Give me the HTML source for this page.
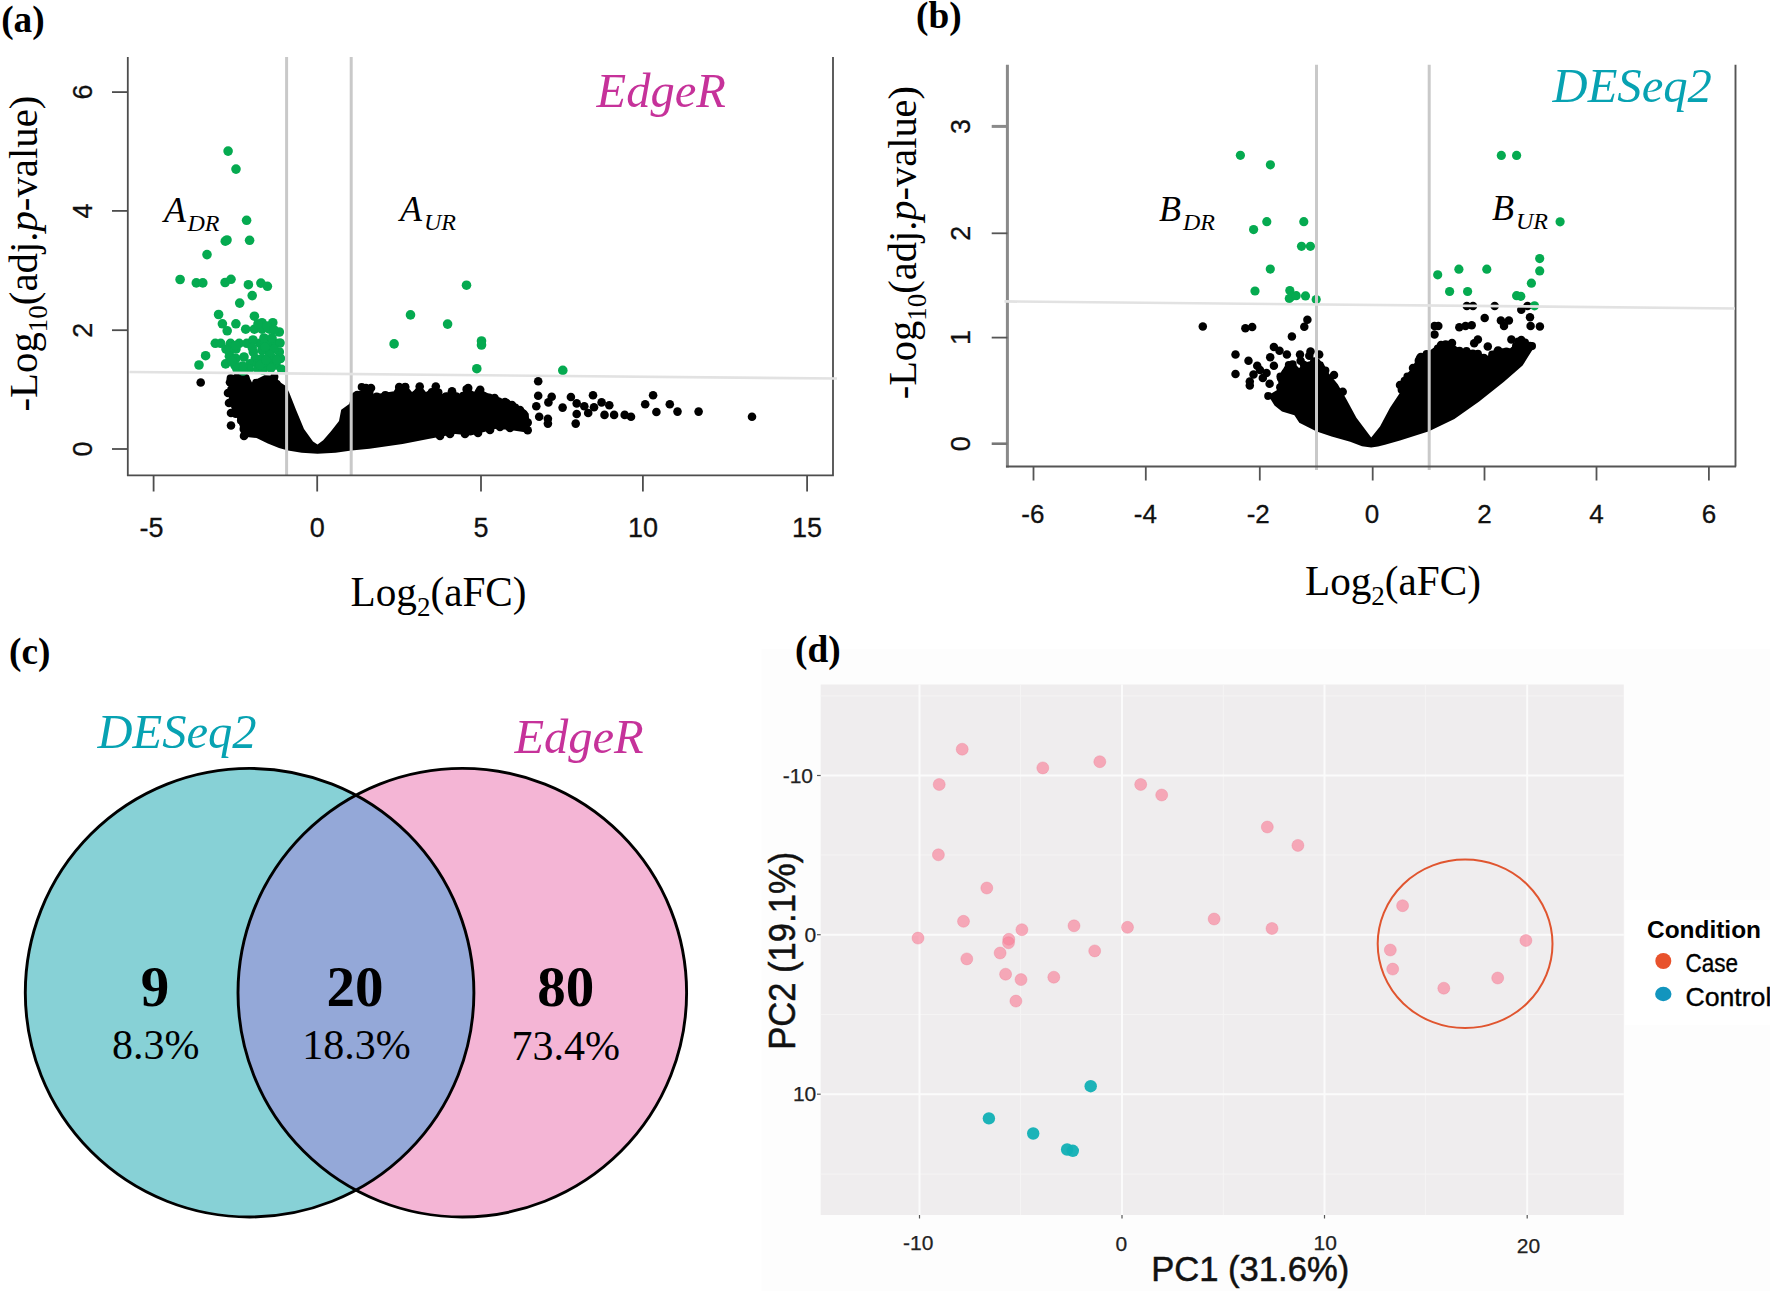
<!DOCTYPE html>
<html><head><meta charset="utf-8"><title>Figure</title>
<style>
html,body{margin:0;padding:0;background:#fff;}
svg{display:block;}
.ser{font-family:"Liberation Serif",serif;}
.san{font-family:"Liberation Sans",sans-serif;}
.dj{font-family:"DejaVu Sans","Liberation Sans",sans-serif;}
</style></head><body>
<svg width="1770" height="1291" viewBox="0 0 1770 1291">
<rect width="1770" height="1291" fill="#ffffff"/>

<rect x="761.6" y="648.8" width="1008.4" height="642.2" fill="#fdfdfd"/>
<rect x="1625" y="900" width="145" height="125" fill="#ffffff"/>
<g class="ser" font-weight="bold" font-size="37.3" fill="#000">
<text x="1.2" y="31.5">(a)</text>
<text x="916.1" y="27.8">(b)</text>
<text x="9" y="663.6">(c)</text>
<text x="795.1" y="661.5">(d)</text>
</g>
<g id="pa">
<path fill="#000" d="M230.5 374.7 L248.6 375.8 L252.0 382.6 L256.5 379.2 L264.4 375.3 L275.7 375.8 L279.0 381.5 L285.9 386.0 L289.3 392.8 L296.0 409.7 L304.0 428.9 L313.0 441.4 L317.5 444.5 L323.2 440.2 L331.0 431.2 L339.0 421.0 L341.2 409.7 L349.2 404.1 L352.5 392.8 L361.6 390.5 L362.7 384.9 L372.9 384.9 L373.6 394.6 L394.0 391.2 L399.0 386.0 L407.0 386.0 L412.0 392.0 L419.7 386.0 L426.0 392.0 L435.8 386.0 L442.0 394.0 L452.0 391.2 L460.0 394.0 L468.2 387.8 L474.0 392.0 L480.2 389.5 L494.6 396.4 L511.7 401.5 L528.7 413.4 L530.0 433.0 L513.4 430.4 L496.4 428.7 L470.8 435.6 L455.4 433.9 L428.2 439.0 L402.6 444.1 L369.5 448.7 L351.4 450.4 L335.6 452.7 L317.5 453.8 L301.7 452.7 L288.0 450.4 L279.0 448.1 L267.8 443.6 L256.5 438.0 L244.0 436.8 L241.0 430.0 L237.0 418.0 L232.0 410.0 L229.0 395.0 L230.5 385.0 Z"/>
<circle cx="230.6" cy="378.3" r="4.0" fill="#000"/>
<circle cx="236.8" cy="377.6" r="4.0" fill="#000"/>
<circle cx="242.7" cy="377.0" r="4.0" fill="#000"/>
<circle cx="245.6" cy="377.9" r="4.0" fill="#000"/>
<circle cx="256.2" cy="382.8" r="4.0" fill="#000"/>
<circle cx="259.5" cy="382.7" r="4.0" fill="#000"/>
<circle cx="268.5" cy="380.0" r="4.0" fill="#000"/>
<circle cx="274.4" cy="376.8" r="4.0" fill="#000"/>
<circle cx="276.8" cy="383.9" r="4.0" fill="#000"/>
<circle cx="357.4" cy="394.7" r="4.0" fill="#000"/>
<circle cx="364.6" cy="388.7" r="4.0" fill="#000"/>
<circle cx="361.7" cy="387.0" r="4.0" fill="#000"/>
<circle cx="370.0" cy="389.1" r="4.0" fill="#000"/>
<circle cx="376.7" cy="396.5" r="4.0" fill="#000"/>
<circle cx="385.3" cy="395.0" r="4.0" fill="#000"/>
<circle cx="390.5" cy="396.0" r="4.0" fill="#000"/>
<circle cx="398.0" cy="392.2" r="4.0" fill="#000"/>
<circle cx="399.4" cy="389.8" r="4.0" fill="#000"/>
<circle cx="405.2" cy="387.1" r="4.0" fill="#000"/>
<circle cx="418.3" cy="391.8" r="4.0" fill="#000"/>
<circle cx="420.9" cy="392.5" r="4.0" fill="#000"/>
<circle cx="431.9" cy="391.9" r="4.0" fill="#000"/>
<circle cx="438.5" cy="392.5" r="4.0" fill="#000"/>
<circle cx="446.1" cy="396.2" r="4.0" fill="#000"/>
<circle cx="456.2" cy="396.3" r="4.0" fill="#000"/>
<circle cx="463.1" cy="395.7" r="4.0" fill="#000"/>
<circle cx="466.4" cy="389.2" r="4.0" fill="#000"/>
<circle cx="474.2" cy="395.4" r="4.0" fill="#000"/>
<circle cx="478.7" cy="392.2" r="4.0" fill="#000"/>
<circle cx="489.2" cy="397.6" r="4.0" fill="#000"/>
<circle cx="498.3" cy="401.3" r="4.0" fill="#000"/>
<circle cx="506.8" cy="403.1" r="4.0" fill="#000"/>
<circle cx="512.6" cy="406.4" r="4.0" fill="#000"/>
<circle cx="515.2" cy="407.5" r="4.0" fill="#000"/>
<circle cx="522.2" cy="412.8" r="4.0" fill="#000"/>
<circle cx="244.6" cy="434.1" r="4.0" fill="#000"/>
<circle cx="243.5" cy="429.0" r="4.0" fill="#000"/>
<circle cx="240.9" cy="420.5" r="4.0" fill="#000"/>
<circle cx="235.8" cy="413.9" r="4.0" fill="#000"/>
<circle cx="235.3" cy="406.3" r="4.0" fill="#000"/>
<circle cx="232.7" cy="398.6" r="4.0" fill="#000"/>
<circle cx="231.2" cy="389.6" r="4.0" fill="#000"/>
<circle cx="232.4" cy="383.0" r="4.0" fill="#000"/>
<circle cx="200.7" cy="382.5" r="4.3" fill="#000"/>
<circle cx="230.0" cy="382.3" r="4.3" fill="#000"/>
<circle cx="231.0" cy="425.5" r="4.3" fill="#000"/>
<circle cx="228.0" cy="393.0" r="4.3" fill="#000"/>
<circle cx="229.0" cy="403.0" r="4.3" fill="#000"/>
<circle cx="231.0" cy="413.0" r="4.3" fill="#000"/>
<circle cx="244.0" cy="436.0" r="4.3" fill="#000"/>
<circle cx="538.2" cy="381.3" r="4.3" fill="#000"/>
<circle cx="538.2" cy="395.7" r="4.3" fill="#000"/>
<circle cx="536.3" cy="406.3" r="4.3" fill="#000"/>
<circle cx="551.7" cy="396.7" r="4.3" fill="#000"/>
<circle cx="548.4" cy="402.4" r="4.3" fill="#000"/>
<circle cx="539.2" cy="416.8" r="4.3" fill="#000"/>
<circle cx="547.9" cy="418.8" r="4.3" fill="#000"/>
<circle cx="547.9" cy="423.6" r="4.3" fill="#000"/>
<circle cx="523.8" cy="414.0" r="4.3" fill="#000"/>
<circle cx="527.7" cy="422.6" r="4.3" fill="#000"/>
<circle cx="527.7" cy="430.3" r="4.3" fill="#000"/>
<circle cx="521.0" cy="416.8" r="4.3" fill="#000"/>
<circle cx="562.6" cy="407.6" r="4.3" fill="#000"/>
<circle cx="570.9" cy="397.0" r="4.3" fill="#000"/>
<circle cx="576.7" cy="403.4" r="4.3" fill="#000"/>
<circle cx="576.7" cy="414.0" r="4.3" fill="#000"/>
<circle cx="575.7" cy="423.6" r="4.3" fill="#000"/>
<circle cx="584.3" cy="406.3" r="4.3" fill="#000"/>
<circle cx="588.2" cy="413.0" r="4.3" fill="#000"/>
<circle cx="593.0" cy="395.3" r="4.3" fill="#000"/>
<circle cx="594.0" cy="407.2" r="4.3" fill="#000"/>
<circle cx="601.6" cy="402.4" r="4.3" fill="#000"/>
<circle cx="609.3" cy="405.3" r="4.3" fill="#000"/>
<circle cx="604.5" cy="414.9" r="4.3" fill="#000"/>
<circle cx="614.1" cy="414.9" r="4.3" fill="#000"/>
<circle cx="624.7" cy="414.9" r="4.3" fill="#000"/>
<circle cx="631.0" cy="416.8" r="4.3" fill="#000"/>
<circle cx="645.2" cy="404.3" r="4.3" fill="#000"/>
<circle cx="653.1" cy="395.3" r="4.3" fill="#000"/>
<circle cx="656.4" cy="412.0" r="4.3" fill="#000"/>
<circle cx="669.8" cy="404.3" r="4.3" fill="#000"/>
<circle cx="677.5" cy="411.6" r="4.3" fill="#000"/>
<circle cx="698.6" cy="411.6" r="4.3" fill="#000"/>
<circle cx="752.0" cy="416.8" r="4.3" fill="#000"/>
<circle cx="366.0" cy="388.0" r="4.3" fill="#000"/>
<circle cx="371.0" cy="388.0" r="4.3" fill="#000"/>
<circle cx="399.2" cy="387.0" r="4.3" fill="#000"/>
<circle cx="405.2" cy="387.0" r="4.3" fill="#000"/>
<circle cx="419.7" cy="386.5" r="4.3" fill="#000"/>
<circle cx="435.8" cy="386.5" r="4.3" fill="#000"/>
<circle cx="437.0" cy="393.0" r="4.3" fill="#000"/>
<circle cx="452.0" cy="391.2" r="4.3" fill="#000"/>
<circle cx="468.2" cy="388.0" r="4.3" fill="#000"/>
<circle cx="480.2" cy="389.8" r="4.3" fill="#000"/>
<circle cx="483.0" cy="396.0" r="4.3" fill="#000"/>
<circle cx="494.6" cy="398.0" r="4.3" fill="#000"/>
<circle cx="505.0" cy="402.0" r="4.3" fill="#000"/>
<circle cx="512.0" cy="405.0" r="4.3" fill="#000"/>
<circle cx="520.0" cy="410.0" r="4.3" fill="#000"/>
<circle cx="510.0" cy="428.0" r="4.3" fill="#000"/>
<circle cx="500.0" cy="427.0" r="4.3" fill="#000"/>
<circle cx="490.0" cy="430.0" r="4.3" fill="#000"/>
<circle cx="478.0" cy="433.0" r="4.3" fill="#000"/>
<circle cx="465.0" cy="434.0" r="4.3" fill="#000"/>
<circle cx="450.0" cy="434.0" r="4.3" fill="#000"/>
<circle cx="440.0" cy="436.0" r="4.3" fill="#000"/>
<circle cx="228.1" cy="151.1" r="4.8" fill="#05aa50"/>
<circle cx="236.0" cy="169.1" r="4.8" fill="#05aa50"/>
<circle cx="246.6" cy="220.3" r="4.8" fill="#05aa50"/>
<circle cx="225.3" cy="241.2" r="4.8" fill="#05aa50"/>
<circle cx="227.0" cy="240.0" r="4.8" fill="#05aa50"/>
<circle cx="249.6" cy="240.3" r="4.8" fill="#05aa50"/>
<circle cx="207.0" cy="254.6" r="4.8" fill="#05aa50"/>
<circle cx="180.1" cy="279.5" r="4.8" fill="#05aa50"/>
<circle cx="196.3" cy="282.9" r="4.8" fill="#05aa50"/>
<circle cx="202.8" cy="282.9" r="4.8" fill="#05aa50"/>
<circle cx="225.1" cy="282.5" r="4.8" fill="#05aa50"/>
<circle cx="231.0" cy="279.3" r="4.8" fill="#05aa50"/>
<circle cx="248.4" cy="284.7" r="4.8" fill="#05aa50"/>
<circle cx="260.9" cy="283.1" r="4.8" fill="#05aa50"/>
<circle cx="267.4" cy="286.3" r="4.8" fill="#05aa50"/>
<circle cx="252.2" cy="295.6" r="4.8" fill="#05aa50"/>
<circle cx="239.7" cy="303.1" r="4.8" fill="#05aa50"/>
<circle cx="218.6" cy="314.5" r="4.8" fill="#05aa50"/>
<circle cx="222.4" cy="323.8" r="4.8" fill="#05aa50"/>
<circle cx="227.2" cy="330.8" r="4.8" fill="#05aa50"/>
<circle cx="235.9" cy="323.8" r="4.8" fill="#05aa50"/>
<circle cx="254.4" cy="316.2" r="4.8" fill="#05aa50"/>
<circle cx="245.7" cy="329.2" r="4.8" fill="#05aa50"/>
<circle cx="254.4" cy="329.2" r="4.8" fill="#05aa50"/>
<circle cx="262.0" cy="329.2" r="4.8" fill="#05aa50"/>
<circle cx="269.5" cy="329.2" r="4.8" fill="#05aa50"/>
<circle cx="279.3" cy="332.0" r="4.8" fill="#05aa50"/>
<circle cx="262.0" cy="322.7" r="4.8" fill="#05aa50"/>
<circle cx="272.8" cy="322.7" r="4.8" fill="#05aa50"/>
<circle cx="258.0" cy="324.0" r="4.8" fill="#05aa50"/>
<circle cx="267.0" cy="326.0" r="4.8" fill="#05aa50"/>
<circle cx="274.0" cy="330.0" r="4.8" fill="#05aa50"/>
<circle cx="215.3" cy="343.3" r="4.8" fill="#05aa50"/>
<circle cx="220.7" cy="343.3" r="4.8" fill="#05aa50"/>
<circle cx="230.5" cy="343.3" r="4.8" fill="#05aa50"/>
<circle cx="239.2" cy="343.3" r="4.8" fill="#05aa50"/>
<circle cx="246.8" cy="343.3" r="4.8" fill="#05aa50"/>
<circle cx="259.8" cy="343.3" r="4.8" fill="#05aa50"/>
<circle cx="268.5" cy="343.3" r="4.8" fill="#05aa50"/>
<circle cx="276.0" cy="343.3" r="4.8" fill="#05aa50"/>
<circle cx="253.0" cy="340.0" r="4.8" fill="#05aa50"/>
<circle cx="264.0" cy="338.0" r="4.8" fill="#05aa50"/>
<circle cx="272.0" cy="338.0" r="4.8" fill="#05aa50"/>
<circle cx="280.0" cy="343.0" r="4.8" fill="#05aa50"/>
<circle cx="229.4" cy="352.0" r="4.8" fill="#05aa50"/>
<circle cx="253.3" cy="352.0" r="4.8" fill="#05aa50"/>
<circle cx="268.5" cy="352.0" r="4.8" fill="#05aa50"/>
<circle cx="279.3" cy="352.0" r="4.8" fill="#05aa50"/>
<circle cx="236.0" cy="349.0" r="4.8" fill="#05aa50"/>
<circle cx="262.0" cy="350.0" r="4.8" fill="#05aa50"/>
<circle cx="274.0" cy="349.0" r="4.8" fill="#05aa50"/>
<circle cx="234.8" cy="358.5" r="4.8" fill="#05aa50"/>
<circle cx="255.4" cy="358.5" r="4.8" fill="#05aa50"/>
<circle cx="262.0" cy="358.5" r="4.8" fill="#05aa50"/>
<circle cx="272.8" cy="358.5" r="4.8" fill="#05aa50"/>
<circle cx="280.4" cy="358.5" r="4.8" fill="#05aa50"/>
<circle cx="244.0" cy="357.0" r="4.8" fill="#05aa50"/>
<circle cx="225.6" cy="363.9" r="4.8" fill="#05aa50"/>
<circle cx="250.0" cy="363.9" r="4.8" fill="#05aa50"/>
<circle cx="257.6" cy="363.9" r="4.8" fill="#05aa50"/>
<circle cx="268.5" cy="363.9" r="4.8" fill="#05aa50"/>
<circle cx="276.0" cy="365.0" r="4.8" fill="#05aa50"/>
<circle cx="237.0" cy="369.3" r="4.8" fill="#05aa50"/>
<circle cx="249.0" cy="369.3" r="4.8" fill="#05aa50"/>
<circle cx="257.6" cy="369.3" r="4.8" fill="#05aa50"/>
<circle cx="281.5" cy="369.3" r="4.8" fill="#05aa50"/>
<circle cx="243.0" cy="371.0" r="4.8" fill="#05aa50"/>
<circle cx="263.0" cy="370.0" r="4.8" fill="#05aa50"/>
<circle cx="205.6" cy="355.7" r="4.8" fill="#05aa50"/>
<circle cx="199.0" cy="365.0" r="4.8" fill="#05aa50"/>
<circle cx="230.5" cy="347.6" r="4.8" fill="#05aa50"/>
<circle cx="236.0" cy="345.5" r="4.8" fill="#05aa50"/>
<circle cx="229.4" cy="356.3" r="4.8" fill="#05aa50"/>
<circle cx="235.9" cy="358.5" r="4.8" fill="#05aa50"/>
<circle cx="252.2" cy="347.6" r="4.8" fill="#05aa50"/>
<circle cx="242.4" cy="366.0" r="4.8" fill="#05aa50"/>
<circle cx="234.8" cy="365.0" r="4.8" fill="#05aa50"/>
<circle cx="226.0" cy="349.0" r="4.8" fill="#05aa50"/>
<circle cx="232.0" cy="361.0" r="4.8" fill="#05aa50"/>
<circle cx="265.0" cy="347.0" r="4.8" fill="#05aa50"/>
<circle cx="270.0" cy="355.0" r="4.8" fill="#05aa50"/>
<circle cx="277.0" cy="360.0" r="4.8" fill="#05aa50"/>
<circle cx="260.0" cy="365.0" r="4.8" fill="#05aa50"/>
<circle cx="266.0" cy="360.0" r="4.8" fill="#05aa50"/>
<circle cx="271.0" cy="368.0" r="4.8" fill="#05aa50"/>
<circle cx="466.5" cy="285.2" r="4.8" fill="#05aa50"/>
<circle cx="410.5" cy="314.9" r="4.8" fill="#05aa50"/>
<circle cx="447.6" cy="324.1" r="4.8" fill="#05aa50"/>
<circle cx="394.1" cy="343.9" r="4.8" fill="#05aa50"/>
<circle cx="481.5" cy="341.0" r="4.8" fill="#05aa50"/>
<circle cx="481.5" cy="345.0" r="4.8" fill="#05aa50"/>
<circle cx="476.8" cy="368.7" r="4.8" fill="#05aa50"/>
<circle cx="562.8" cy="370.4" r="4.8" fill="#05aa50"/>
<line x1="286.6" y1="57" x2="286.6" y2="475.4" stroke="#c9c9c9" stroke-width="3"/>
<line x1="351.2" y1="57" x2="351.2" y2="475.4" stroke="#c9c9c9" stroke-width="3"/>
<path d="M127.8 57 L127.8 475.4 L833 475.4 L833 57" fill="none" stroke="#4d4d4d" stroke-width="1.8"/>
<line x1="129.5" y1="372" x2="837" y2="378.5" stroke="#e2e2e2" stroke-width="2.7"/>
<line x1="153.6" y1="475.4" x2="153.6" y2="491.5" stroke="#4d4d4d" stroke-width="1.8"/>
<line x1="317.2" y1="475.4" x2="317.2" y2="491.5" stroke="#4d4d4d" stroke-width="1.8"/>
<line x1="481" y1="475.4" x2="481" y2="491.5" stroke="#4d4d4d" stroke-width="1.8"/>
<line x1="642.9" y1="475.4" x2="642.9" y2="491.5" stroke="#4d4d4d" stroke-width="1.8"/>
<line x1="807.1" y1="475.4" x2="807.1" y2="491.5" stroke="#4d4d4d" stroke-width="1.8"/>
<line x1="112" y1="92.1" x2="127.8" y2="92.1" stroke="#4d4d4d" stroke-width="1.8"/>
<line x1="112" y1="210.9" x2="127.8" y2="210.9" stroke="#4d4d4d" stroke-width="1.8"/>
<line x1="112" y1="330.2" x2="127.8" y2="330.2" stroke="#4d4d4d" stroke-width="1.8"/>
<line x1="112" y1="449" x2="127.8" y2="449" stroke="#4d4d4d" stroke-width="1.8"/>
<g class="san" font-size="27" fill="#111" stroke="#111" stroke-width="0.3" text-anchor="middle">
<text x="151.5" y="537">-5</text>
<text x="317.2" y="537">0</text>
<text x="481" y="537">5</text>
<text x="643" y="537">10</text>
<text x="807.1" y="537">15</text>
<text transform="translate(91.5 92.1) rotate(-90)">6</text>
<text transform="translate(91.5 210.9) rotate(-90)">4</text>
<text transform="translate(91.5 330.2) rotate(-90)">2</text>
<text transform="translate(91.5 449) rotate(-90)">0</text>
</g>
<text class="ser" font-size="41.2" x="350.6" y="605.8" fill="#000">Log<tspan font-size="27" dy="10">2</tspan><tspan dy="-10">(aFC)</tspan></text>
<text class="ser" font-size="40.8" transform="translate(37 411.5) rotate(-90)" fill="#000">-Log<tspan font-size="27" dy="10">10</tspan><tspan dy="-10">(adj.</tspan><tspan font-style="italic">p</tspan>-value)</text>
<text class="ser" font-style="italic" font-size="48.5" x="596.5" y="107" fill="#c6329a">EdgeR</text>
<text class="ser" font-style="italic" font-size="36" x="164" y="221.5" fill="#000">A<tspan font-size="24" dy="9.3" dx="1.5">DR</tspan></text>
<text class="ser" font-style="italic" font-size="36" x="400" y="221.2" fill="#000">A<tspan font-size="24" dy="9" dx="2">UR</tspan></text>
</g>
<g id="pb">
<path fill="#000" d="M1268.3 395.4 L1278.3 389.3 L1278.3 376.9 L1285.7 364.5 L1294.4 363.2 L1299.0 368.0 L1306.8 362.0 L1316.7 359.5 L1322.9 362.0 L1327.8 371.9 L1337.8 384.3 L1346.4 399.2 L1356.4 417.8 L1371.2 437.6 L1380.0 426.4 L1390.0 407.8 L1399.8 392.9 L1399.8 381.7 L1411.0 369.3 L1417.2 358.2 L1425.9 353.2 L1438.3 344.5 L1450.7 342.1 L1461.8 350.7 L1469.3 349.5 L1487.8 355.7 L1497.8 348.3 L1510.2 348.3 L1521.3 338.3 L1533.7 344.5 L1535.0 345.8 L1522.6 365.6 L1504.0 381.7 L1479.2 401.6 L1454.4 418.9 L1429.0 431.3 L1400.0 440.5 L1385.0 444.8 L1378.0 446.6 L1371.2 447.5 L1362.0 446.3 L1350.2 441.8 L1331.6 436.4 L1316.7 431.4 L1299.3 422.7 L1294.4 415.3 L1282.0 411.6 L1274.5 405.4 Z"/>
<circle cx="1268.2" cy="395.9" r="4.0" fill="#000"/>
<circle cx="1280.1" cy="387.3" r="4.0" fill="#000"/>
<circle cx="1280.9" cy="378.2" r="4.0" fill="#000"/>
<circle cx="1280.4" cy="376.5" r="4.0" fill="#000"/>
<circle cx="1285.3" cy="372.9" r="4.0" fill="#000"/>
<circle cx="1288.8" cy="364.9" r="4.0" fill="#000"/>
<circle cx="1292.6" cy="364.3" r="4.0" fill="#000"/>
<circle cx="1303.8" cy="364.7" r="4.0" fill="#000"/>
<circle cx="1314.0" cy="361.3" r="4.0" fill="#000"/>
<circle cx="1316.7" cy="362.6" r="4.0" fill="#000"/>
<circle cx="1325.4" cy="370.4" r="4.0" fill="#000"/>
<circle cx="1401.6" cy="389.8" r="4.0" fill="#000"/>
<circle cx="1404.6" cy="380.7" r="4.0" fill="#000"/>
<circle cx="1407.4" cy="376.5" r="4.0" fill="#000"/>
<circle cx="1416.2" cy="367.5" r="4.0" fill="#000"/>
<circle cx="1418.6" cy="360.8" r="4.0" fill="#000"/>
<circle cx="1421.0" cy="356.8" r="4.0" fill="#000"/>
<circle cx="1426.6" cy="354.1" r="4.0" fill="#000"/>
<circle cx="1437.8" cy="348.4" r="4.0" fill="#000"/>
<circle cx="1444.3" cy="347.3" r="4.0" fill="#000"/>
<circle cx="1445.6" cy="344.3" r="4.0" fill="#000"/>
<circle cx="1449.2" cy="344.8" r="4.0" fill="#000"/>
<circle cx="1459.5" cy="350.8" r="4.0" fill="#000"/>
<circle cx="1466.5" cy="351.0" r="4.0" fill="#000"/>
<circle cx="1472.8" cy="353.4" r="4.0" fill="#000"/>
<circle cx="1477.9" cy="353.7" r="4.0" fill="#000"/>
<circle cx="1483.8" cy="357.8" r="4.0" fill="#000"/>
<circle cx="1492.2" cy="354.6" r="4.0" fill="#000"/>
<circle cx="1498.1" cy="350.3" r="4.0" fill="#000"/>
<circle cx="1497.2" cy="351.8" r="4.0" fill="#000"/>
<circle cx="1506.4" cy="351.5" r="4.0" fill="#000"/>
<circle cx="1516.0" cy="346.0" r="4.0" fill="#000"/>
<circle cx="1518.2" cy="341.5" r="4.0" fill="#000"/>
<circle cx="1525.0" cy="342.5" r="4.0" fill="#000"/>
<circle cx="1530.4" cy="346.6" r="4.0" fill="#000"/>
<circle cx="1532.0" cy="346.0" r="4.0" fill="#000"/>
<circle cx="1202.8" cy="326.4" r="4.25" fill="#000"/>
<circle cx="1245.4" cy="328.3" r="4.25" fill="#000"/>
<circle cx="1252.2" cy="327.0" r="4.25" fill="#000"/>
<circle cx="1307.4" cy="319.8" r="4.25" fill="#000"/>
<circle cx="1304.3" cy="326.7" r="4.25" fill="#000"/>
<circle cx="1291.9" cy="336.6" r="4.25" fill="#000"/>
<circle cx="1273.9" cy="346.9" r="4.25" fill="#000"/>
<circle cx="1279.5" cy="350.8" r="4.25" fill="#000"/>
<circle cx="1286.9" cy="354.5" r="4.25" fill="#000"/>
<circle cx="1235.5" cy="354.5" r="4.25" fill="#000"/>
<circle cx="1270.2" cy="357.3" r="4.25" fill="#000"/>
<circle cx="1248.5" cy="360.7" r="4.25" fill="#000"/>
<circle cx="1257.2" cy="365.7" r="4.25" fill="#000"/>
<circle cx="1273.9" cy="365.7" r="4.25" fill="#000"/>
<circle cx="1235.5" cy="374.0" r="4.25" fill="#000"/>
<circle cx="1253.5" cy="374.4" r="4.25" fill="#000"/>
<circle cx="1266.5" cy="373.1" r="4.25" fill="#000"/>
<circle cx="1249.8" cy="385.5" r="4.25" fill="#000"/>
<circle cx="1249.8" cy="381.5" r="4.25" fill="#000"/>
<circle cx="1262.8" cy="378.1" r="4.25" fill="#000"/>
<circle cx="1269.6" cy="383.7" r="4.25" fill="#000"/>
<circle cx="1300.0" cy="354.5" r="4.25" fill="#000"/>
<circle cx="1310.5" cy="351.4" r="4.25" fill="#000"/>
<circle cx="1309.3" cy="355.8" r="4.25" fill="#000"/>
<circle cx="1300.6" cy="360.7" r="4.25" fill="#000"/>
<circle cx="1319.2" cy="354.5" r="4.25" fill="#000"/>
<circle cx="1334.0" cy="375.0" r="4.25" fill="#000"/>
<circle cx="1342.7" cy="391.7" r="4.25" fill="#000"/>
<circle cx="1260.0" cy="370.0" r="4.25" fill="#000"/>
<circle cx="1434.5" cy="325.9" r="4.25" fill="#000"/>
<circle cx="1438.3" cy="325.9" r="4.25" fill="#000"/>
<circle cx="1434.5" cy="334.6" r="4.25" fill="#000"/>
<circle cx="1459.3" cy="327.2" r="4.25" fill="#000"/>
<circle cx="1465.5" cy="325.9" r="4.25" fill="#000"/>
<circle cx="1471.7" cy="325.3" r="4.25" fill="#000"/>
<circle cx="1484.7" cy="317.9" r="4.25" fill="#000"/>
<circle cx="1500.9" cy="320.4" r="4.25" fill="#000"/>
<circle cx="1508.9" cy="320.4" r="4.25" fill="#000"/>
<circle cx="1504.0" cy="325.9" r="4.25" fill="#000"/>
<circle cx="1530.0" cy="317.3" r="4.25" fill="#000"/>
<circle cx="1530.6" cy="325.9" r="4.25" fill="#000"/>
<circle cx="1539.9" cy="326.6" r="4.25" fill="#000"/>
<circle cx="1477.9" cy="339.6" r="4.25" fill="#000"/>
<circle cx="1474.2" cy="343.3" r="4.25" fill="#000"/>
<circle cx="1487.8" cy="346.4" r="4.25" fill="#000"/>
<circle cx="1511.4" cy="339.6" r="4.25" fill="#000"/>
<circle cx="1466.8" cy="306.1" r="4.25" fill="#000"/>
<circle cx="1473.0" cy="306.1" r="4.25" fill="#000"/>
<circle cx="1494.7" cy="306.1" r="4.25" fill="#000"/>
<circle cx="1521.3" cy="309.8" r="4.25" fill="#000"/>
<circle cx="1527.5" cy="306.1" r="4.25" fill="#000"/>
<circle cx="1521.3" cy="340.0" r="4.25" fill="#000"/>
<circle cx="1530.0" cy="346.0" r="4.25" fill="#000"/>
<circle cx="1400.0" cy="385.0" r="4.25" fill="#000"/>
<circle cx="1413.0" cy="368.0" r="4.25" fill="#000"/>
<circle cx="1420.0" cy="358.0" r="4.25" fill="#000"/>
<circle cx="1441.0" cy="345.0" r="4.25" fill="#000"/>
<circle cx="1452.0" cy="343.0" r="4.25" fill="#000"/>
<circle cx="1240.4" cy="155.3" r="4.6" fill="#05aa50"/>
<circle cx="1270.4" cy="164.8" r="4.6" fill="#05aa50"/>
<circle cx="1266.8" cy="221.7" r="4.6" fill="#05aa50"/>
<circle cx="1253.6" cy="229.6" r="4.6" fill="#05aa50"/>
<circle cx="1303.8" cy="221.7" r="4.6" fill="#05aa50"/>
<circle cx="1301.5" cy="246.3" r="4.6" fill="#05aa50"/>
<circle cx="1310.4" cy="246.3" r="4.6" fill="#05aa50"/>
<circle cx="1270.3" cy="269.1" r="4.6" fill="#05aa50"/>
<circle cx="1255.0" cy="291.0" r="4.6" fill="#05aa50"/>
<circle cx="1289.8" cy="290.5" r="4.6" fill="#05aa50"/>
<circle cx="1292.0" cy="296.3" r="4.6" fill="#05aa50"/>
<circle cx="1289.3" cy="298.5" r="4.6" fill="#05aa50"/>
<circle cx="1296.2" cy="295.7" r="4.6" fill="#05aa50"/>
<circle cx="1305.5" cy="295.9" r="4.6" fill="#05aa50"/>
<circle cx="1316.2" cy="299.6" r="4.6" fill="#05aa50"/>
<circle cx="1501.3" cy="155.4" r="4.6" fill="#05aa50"/>
<circle cx="1516.6" cy="155.4" r="4.6" fill="#05aa50"/>
<circle cx="1560.1" cy="221.8" r="4.6" fill="#05aa50"/>
<circle cx="1539.7" cy="258.6" r="4.6" fill="#05aa50"/>
<circle cx="1539.7" cy="270.9" r="4.6" fill="#05aa50"/>
<circle cx="1531.4" cy="283.2" r="4.6" fill="#05aa50"/>
<circle cx="1516.6" cy="295.7" r="4.6" fill="#05aa50"/>
<circle cx="1520.8" cy="296.3" r="4.6" fill="#05aa50"/>
<circle cx="1534.5" cy="305.8" r="4.6" fill="#05aa50"/>
<circle cx="1437.7" cy="274.8" r="4.6" fill="#05aa50"/>
<circle cx="1458.9" cy="269.2" r="4.6" fill="#05aa50"/>
<circle cx="1486.8" cy="269.2" r="4.6" fill="#05aa50"/>
<circle cx="1449.6" cy="291.5" r="4.6" fill="#05aa50"/>
<circle cx="1467.6" cy="291.5" r="4.6" fill="#05aa50"/>
<line x1="1316.5" y1="64.7" x2="1316.5" y2="470" stroke="#c9c9c9" stroke-width="3"/>
<line x1="1429.2" y1="64.7" x2="1429.2" y2="470" stroke="#c9c9c9" stroke-width="3"/>
<line x1="1007.4" y1="64.7" x2="1007.4" y2="467.4" stroke="#8a8a8a" stroke-width="3"/>
<line x1="1006.0" y1="466.4" x2="1736.1" y2="466.4" stroke="#555" stroke-width="2"/>
<line x1="1735.5" y1="64.7" x2="1735.5" y2="466.4" stroke="#555" stroke-width="1.9"/>
<line x1="1004.5" y1="301.4" x2="1735" y2="308.5" stroke="#e2e2e2" stroke-width="2.7"/>
<line x1="1033.5" y1="466.4" x2="1033.5" y2="480.5" stroke="#555" stroke-width="1.8"/>
<line x1="1145.8" y1="466.4" x2="1145.8" y2="480.5" stroke="#555" stroke-width="1.8"/>
<line x1="1259.8" y1="466.4" x2="1259.8" y2="480.5" stroke="#555" stroke-width="1.8"/>
<line x1="1372.7" y1="466.4" x2="1372.7" y2="480.5" stroke="#555" stroke-width="1.8"/>
<line x1="1484.5" y1="466.4" x2="1484.5" y2="480.5" stroke="#555" stroke-width="1.8"/>
<line x1="1596.5" y1="466.4" x2="1596.5" y2="480.5" stroke="#555" stroke-width="1.8"/>
<line x1="1708.9" y1="466.4" x2="1708.9" y2="480.5" stroke="#555" stroke-width="1.8"/>
<line x1="991.7" y1="126.4" x2="1007.4" y2="126.4" stroke="#8a8a8a" stroke-width="3"/>
<line x1="991.7" y1="233.3" x2="1007.4" y2="233.3" stroke="#555" stroke-width="1.8"/>
<line x1="991.7" y1="337.6" x2="1007.4" y2="337.6" stroke="#555" stroke-width="1.8"/>
<line x1="991.7" y1="443.7" x2="1007.4" y2="443.7" stroke="#777" stroke-width="2.6"/>
<g class="san" font-size="26" fill="#111" stroke="#111" stroke-width="0.3" text-anchor="middle">
<text x="1032.8" y="523">-6</text>
<text x="1145.4" y="523">-4</text>
<text x="1258.2" y="523">-2</text>
<text x="1372" y="523">0</text>
<text x="1484.5" y="523">2</text>
<text x="1596.5" y="523">4</text>
<text x="1708.9" y="523">6</text>
</g><g class="san" font-size="27" fill="#111" stroke="#111" stroke-width="0.3" text-anchor="middle">
<text transform="translate(970 126.4) rotate(-90)">3</text>
<text transform="translate(970 233.3) rotate(-90)">2</text>
<text transform="translate(970 337.6) rotate(-90)">1</text>
<text transform="translate(970 443.7) rotate(-90)">0</text>
</g>
<text class="ser" font-size="41.2" x="1305" y="595.4" fill="#000">Log<tspan font-size="27" dy="10">2</tspan><tspan dy="-10">(aFC)</tspan></text>
<text class="ser" font-size="40.45" transform="translate(916 399.3) rotate(-90)" fill="#000">-Log<tspan font-size="27" dy="10">10</tspan><tspan dy="-10">(adj.</tspan><tspan font-style="italic">p</tspan>-value)</text>
<text class="ser" font-style="italic" font-size="48.6" x="1552.6" y="102.3" fill="#07a2b2">DESeq2</text>
<text class="ser" font-style="italic" font-size="36" x="1159" y="221.2" fill="#000">B<tspan font-size="24" dy="9" dx="2">DR</tspan></text>
<text class="ser" font-style="italic" font-size="36" x="1492" y="220.4" fill="#000">B<tspan font-size="24" dy="9" dx="2">UR</tspan></text>
</g>
<g id="pc">
<defs><clipPath id="clipL"><circle cx="249.6" cy="992.7" r="224.3"/></clipPath></defs>
<circle cx="249.6" cy="992.7" r="224.3" fill="#87d1d6"/>
<circle cx="462.3" cy="992.7" r="224.3" fill="#f4b5d5"/>
<circle cx="462.3" cy="992.7" r="224.3" fill="#94a8d8" clip-path="url(#clipL)"/>
<circle cx="249.6" cy="992.7" r="224.3" fill="none" stroke="#000" stroke-width="2.9"/>
<circle cx="462.3" cy="992.7" r="224.3" fill="none" stroke="#000" stroke-width="2.9"/>
<text class="ser" font-style="italic" font-size="48.5" x="97.6" y="747.8" fill="#07a2b2">DESeq2</text>
<text class="ser" font-style="italic" font-size="48.5" x="514.4" y="752.9" fill="#c6329a">EdgeR</text>
<g class="ser" text-anchor="middle" fill="#000">
<text font-weight="bold" font-size="57" x="155" y="1005.6">9</text>
<text font-weight="bold" font-size="57" x="355" y="1005.6">20</text>
<text font-weight="bold" font-size="57" x="565.7" y="1005.6">80</text>
<text font-size="42" x="155.8" y="1059.3">8.3%</text>
<text font-size="42" x="356.5" y="1059.3">18.3%</text>
<text font-size="42" x="565.7" y="1059.6">73.4%</text>
</g></g>
<g id="pd">
<rect x="820.7" y="684.5" width="803.0999999999999" height="530.5" fill="#efedee"/>
<g stroke="#f5f4f4">
<line x1="1020.5" y1="684.5" x2="1020.5" y2="1215" stroke-width="1"/>
<line x1="1223.3" y1="684.5" x2="1223.3" y2="1215" stroke-width="1"/>
<line x1="1425.4" y1="684.5" x2="1425.4" y2="1215" stroke-width="1"/>
<line x1="820.7" y1="695.9" x2="1623.8" y2="695.9" stroke-width="1"/>
<line x1="820.7" y1="855" x2="1623.8" y2="855" stroke-width="1"/>
<line x1="820.7" y1="1014.5" x2="1623.8" y2="1014.5" stroke-width="1"/>
<line x1="820.7" y1="1174.1" x2="1623.8" y2="1174.1" stroke-width="1"/>
<line x1="919.5" y1="684.5" x2="919.5" y2="1215" stroke-width="2" stroke="#fbfbfb"/>
<line x1="1122" y1="684.5" x2="1122" y2="1215" stroke-width="2" stroke="#fbfbfb"/>
<line x1="1324.5" y1="684.5" x2="1324.5" y2="1215" stroke-width="2" stroke="#fbfbfb"/>
<line x1="1527.2" y1="684.5" x2="1527.2" y2="1215" stroke-width="2" stroke="#fbfbfb"/>
<line x1="820.7" y1="775.5" x2="1623.8" y2="775.5" stroke-width="2" stroke="#fbfbfb"/>
<line x1="820.7" y1="934.7" x2="1623.8" y2="934.7" stroke-width="2" stroke="#fbfbfb"/>
<line x1="820.7" y1="1094.2" x2="1623.8" y2="1094.2" stroke-width="2" stroke="#fbfbfb"/>
</g>
<circle cx="962.2" cy="749.2" r="6.0" fill="#f7839b" fill-opacity="0.66" stroke="#ee7f95" stroke-opacity="0.45" stroke-width="0.8"/>
<circle cx="939.2" cy="784.5" r="6.0" fill="#f7839b" fill-opacity="0.66" stroke="#ee7f95" stroke-opacity="0.45" stroke-width="0.8"/>
<circle cx="1042.8" cy="767.9" r="6.0" fill="#f7839b" fill-opacity="0.66" stroke="#ee7f95" stroke-opacity="0.45" stroke-width="0.8"/>
<circle cx="1099.8" cy="761.7" r="6.0" fill="#f7839b" fill-opacity="0.66" stroke="#ee7f95" stroke-opacity="0.45" stroke-width="0.8"/>
<circle cx="1140.7" cy="784.5" r="6.0" fill="#f7839b" fill-opacity="0.66" stroke="#ee7f95" stroke-opacity="0.45" stroke-width="0.8"/>
<circle cx="1161.7" cy="795.0" r="6.0" fill="#f7839b" fill-opacity="0.66" stroke="#ee7f95" stroke-opacity="0.45" stroke-width="0.8"/>
<circle cx="938.4" cy="854.8" r="6.0" fill="#f7839b" fill-opacity="0.66" stroke="#ee7f95" stroke-opacity="0.45" stroke-width="0.8"/>
<circle cx="986.8" cy="888.0" r="6.0" fill="#f7839b" fill-opacity="0.66" stroke="#ee7f95" stroke-opacity="0.45" stroke-width="0.8"/>
<circle cx="963.5" cy="921.3" r="6.0" fill="#f7839b" fill-opacity="0.66" stroke="#ee7f95" stroke-opacity="0.45" stroke-width="0.8"/>
<circle cx="918.0" cy="938.1" r="6.0" fill="#f7839b" fill-opacity="0.66" stroke="#ee7f95" stroke-opacity="0.45" stroke-width="0.8"/>
<circle cx="1021.9" cy="929.7" r="6.0" fill="#f7839b" fill-opacity="0.66" stroke="#ee7f95" stroke-opacity="0.45" stroke-width="0.8"/>
<circle cx="1008.8" cy="939.3" r="6.0" fill="#f7839b" fill-opacity="0.66" stroke="#ee7f95" stroke-opacity="0.45" stroke-width="0.8"/>
<circle cx="1008.5" cy="942.8" r="6.0" fill="#f7839b" fill-opacity="0.66" stroke="#ee7f95" stroke-opacity="0.45" stroke-width="0.8"/>
<circle cx="1074.0" cy="925.8" r="6.0" fill="#f7839b" fill-opacity="0.66" stroke="#ee7f95" stroke-opacity="0.45" stroke-width="0.8"/>
<circle cx="1127.5" cy="927.3" r="6.0" fill="#f7839b" fill-opacity="0.66" stroke="#ee7f95" stroke-opacity="0.45" stroke-width="0.8"/>
<circle cx="1000.1" cy="953.0" r="6.0" fill="#f7839b" fill-opacity="0.66" stroke="#ee7f95" stroke-opacity="0.45" stroke-width="0.8"/>
<circle cx="1094.7" cy="950.9" r="6.0" fill="#f7839b" fill-opacity="0.66" stroke="#ee7f95" stroke-opacity="0.45" stroke-width="0.8"/>
<circle cx="966.8" cy="958.9" r="6.0" fill="#f7839b" fill-opacity="0.66" stroke="#ee7f95" stroke-opacity="0.45" stroke-width="0.8"/>
<circle cx="1005.6" cy="974.2" r="6.0" fill="#f7839b" fill-opacity="0.66" stroke="#ee7f95" stroke-opacity="0.45" stroke-width="0.8"/>
<circle cx="1021.0" cy="979.6" r="6.0" fill="#f7839b" fill-opacity="0.66" stroke="#ee7f95" stroke-opacity="0.45" stroke-width="0.8"/>
<circle cx="1053.8" cy="977.2" r="6.0" fill="#f7839b" fill-opacity="0.66" stroke="#ee7f95" stroke-opacity="0.45" stroke-width="0.8"/>
<circle cx="1015.9" cy="1001.1" r="6.0" fill="#f7839b" fill-opacity="0.66" stroke="#ee7f95" stroke-opacity="0.45" stroke-width="0.8"/>
<circle cx="1267.3" cy="827.0" r="6.0" fill="#f7839b" fill-opacity="0.66" stroke="#ee7f95" stroke-opacity="0.45" stroke-width="0.8"/>
<circle cx="1297.9" cy="845.4" r="6.0" fill="#f7839b" fill-opacity="0.66" stroke="#ee7f95" stroke-opacity="0.45" stroke-width="0.8"/>
<circle cx="1214.1" cy="919.0" r="6.0" fill="#f7839b" fill-opacity="0.66" stroke="#ee7f95" stroke-opacity="0.45" stroke-width="0.8"/>
<circle cx="1272.0" cy="928.5" r="6.0" fill="#f7839b" fill-opacity="0.66" stroke="#ee7f95" stroke-opacity="0.45" stroke-width="0.8"/>
<circle cx="1402.6" cy="905.7" r="6.0" fill="#f7839b" fill-opacity="0.66" stroke="#ee7f95" stroke-opacity="0.45" stroke-width="0.8"/>
<circle cx="1390.3" cy="950.0" r="6.0" fill="#f7839b" fill-opacity="0.66" stroke="#ee7f95" stroke-opacity="0.45" stroke-width="0.8"/>
<circle cx="1392.7" cy="969.1" r="6.0" fill="#f7839b" fill-opacity="0.66" stroke="#ee7f95" stroke-opacity="0.45" stroke-width="0.8"/>
<circle cx="1443.8" cy="988.2" r="6.0" fill="#f7839b" fill-opacity="0.66" stroke="#ee7f95" stroke-opacity="0.45" stroke-width="0.8"/>
<circle cx="1497.7" cy="978.0" r="6.0" fill="#f7839b" fill-opacity="0.66" stroke="#ee7f95" stroke-opacity="0.45" stroke-width="0.8"/>
<circle cx="1525.9" cy="940.5" r="6.0" fill="#f7839b" fill-opacity="0.66" stroke="#ee7f95" stroke-opacity="0.45" stroke-width="0.8"/>
<circle cx="1090.7" cy="1086.2" r="6.2" fill="#10b0b4" fill-opacity="0.95"/>
<circle cx="988.9" cy="1118.4" r="6.2" fill="#10b0b4" fill-opacity="0.95"/>
<circle cx="1033.2" cy="1133.5" r="6.2" fill="#10b0b4" fill-opacity="0.95"/>
<circle cx="1067.1" cy="1149.5" r="6.2" fill="#10b0b4" fill-opacity="0.95"/>
<circle cx="1072.8" cy="1150.8" r="6.2" fill="#10b0b4" fill-opacity="0.95"/>
<ellipse cx="1465.1" cy="943.8" rx="87.4" ry="84.3" fill="none" stroke="#e0552f" stroke-width="2"/>
<g class="san" font-size="21" fill="#222" stroke="#222" stroke-width="0.25">
<text x="918.2" y="1250.2" text-anchor="middle">-10</text>
<text x="1121.3" y="1251.2" text-anchor="middle">0</text>
<text x="1325.3" y="1249.5" text-anchor="middle">10</text>
<text x="1528.5" y="1253" text-anchor="middle">20</text>
<text x="813" y="782.5" text-anchor="end">-10</text>
<text x="816.3" y="941.7" text-anchor="end">0</text>
<text x="816.3" y="1101.2" text-anchor="end">10</text>
</g>
<line x1="817" y1="775.5" x2="820.7" y2="775.5" stroke="#555" stroke-width="1.2"/>
<line x1="817" y1="934.7" x2="820.7" y2="934.7" stroke="#555" stroke-width="1.2"/>
<line x1="817" y1="1094.2" x2="820.7" y2="1094.2" stroke="#555" stroke-width="1.2"/>
<line x1="919.5" y1="1215" x2="919.5" y2="1218.5" stroke="#555" stroke-width="1.2"/>
<line x1="1122" y1="1215" x2="1122" y2="1218.5" stroke="#555" stroke-width="1.2"/>
<line x1="1324.5" y1="1215" x2="1324.5" y2="1218.5" stroke="#555" stroke-width="1.2"/>
<line x1="1527.2" y1="1215" x2="1527.2" y2="1218.5" stroke="#555" stroke-width="1.2"/>
<text class="san" font-size="34.5" x="1151.2" y="1280.5" textLength="198" lengthAdjust="spacingAndGlyphs" fill="#111" stroke="#111" stroke-width="0.5">PC1 (31.6%)</text>
<text class="san" font-size="37" transform="translate(794.6 1049.8) rotate(-90)" textLength="198" lengthAdjust="spacingAndGlyphs" fill="#111" stroke="#111" stroke-width="0.5">PC2 (19.1%)</text>
<text class="san" font-weight="bold" font-size="24.5" x="1647" y="937.8" textLength="114" lengthAdjust="spacingAndGlyphs" fill="#000">Condition</text>
<text class="san" font-size="25" x="1685.4" y="972" textLength="52.5" lengthAdjust="spacingAndGlyphs" fill="#000" stroke="#000" stroke-width="0.35">Case</text>
<text class="san" font-size="25" x="1685.4" y="1006" textLength="86" lengthAdjust="spacingAndGlyphs" fill="#000" stroke="#000" stroke-width="0.35">Control</text>
<circle cx="1663.3" cy="961.0" r="8" fill="#e8522c"/>
<ellipse cx="1663.3" cy="994" rx="8.2" ry="7.2" fill="#1295be"/>
</g>
</svg></body></html>
